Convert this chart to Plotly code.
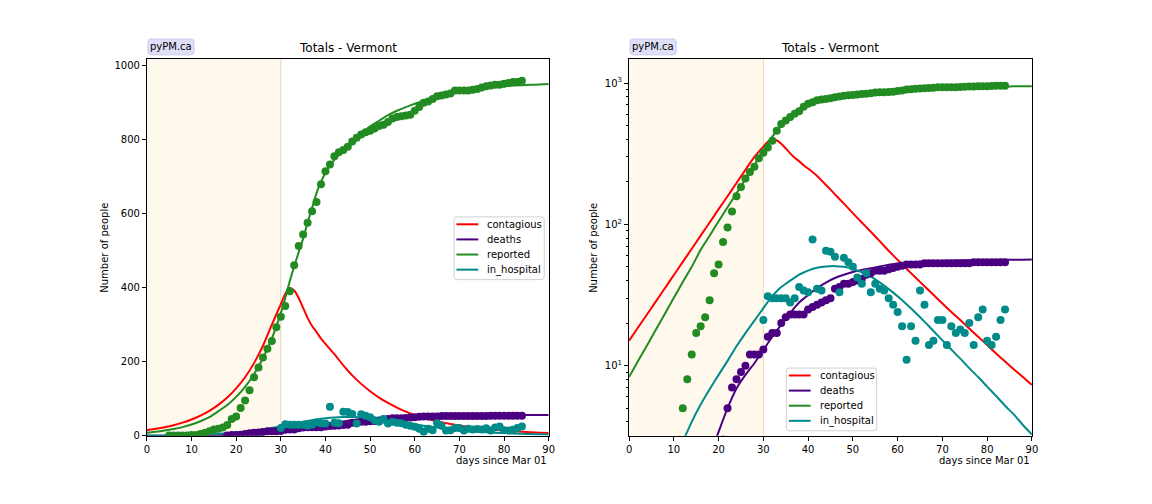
import plotly.graph_objects as go
import math

# ---------------- data ----------------
rep_days = list(range(5, 85))
reported = [1, 1, 1, 1, 1, 2, 2, 5, 8, 12, 17, 19, 22, 29, 45, 52, 75, 95, 123, 158,
            184, 211, 235, 256, 293, 321, 350, 390, 460, 512, 543, 575, 606, 631, 679, 714, 732, 754, 765, 771,
            780, 794, 804, 813, 819, 823, 829, 836, 839, 847, 856, 860, 862, 864, 866, 877, 887, 899, 902, 909,
            916, 918, 921, 924, 932, 932, 932, 932, 934, 936, 940, 943, 945, 947, 947, 950, 952, 955, 955, 958]

death_days = list(range(18, 85))
deaths = [1, 2, 2, 3, 5, 7, 8, 9, 10, 12, 12, 12, 13, 16, 17, 17, 20, 22, 23, 23,
          23, 23, 25, 26, 27, 28, 29, 30, 35, 36, 38, 38, 39, 40, 41, 44, 45, 47, 47, 47,
          48, 49, 50, 51, 52, 52, 52, 52, 53, 53, 53, 53, 53, 53, 53, 53, 53, 53, 53, 54,
          54, 54, 54, 54, 54, 54, 54]

hosp_days = list(range(30, 85))
in_hospital = [21, 31, 30, 30, 30, 30, 28, 30, 36, 34, 33, 78, 35, 34, 65, 64, 59, 33, 58, 54,
               50, 42, 38, 45, 33, 38, 35, 34, 30, 27, 24, 19, 11, 19, 15, 34, 27, 14, 15, 21,
               21, 14, 19, 17, 18, 17, 20, 14, 22, 25, 15, 14, 16, 21, 25]

model_days = [0, 2, 4, 6, 8, 10, 12, 14, 16, 18, 20, 22, 24, 26, 28,
              30, 31, 32, 33, 34, 35, 36, 37, 38, 39, 40,
              42, 44, 46, 48, 50, 52, 54, 56, 58, 60, 62, 64, 66, 68, 70, 72, 74, 76, 78, 80,
              82, 84, 86, 88, 90]
contagious_model = [15.0, 18.6, 23.0, 28.5, 35.3, 43.8, 54.2, 67.1, 83.2, 103, 128, 158, 196, 243, 300,
                    355, 383, 399, 392, 372, 345, 318, 296, 280, 262, 248,
                    220, 190, 163, 140, 120, 103, 88.5, 76, 65, 56, 48.5, 42, 36.5, 31.7, 27.5, 24, 21,
                    18.3, 16, 14, 12.2, 10.7, 9.4, 8.3, 7.3]
reported_model = [8.3, 10.8, 13.9, 18, 23.3, 30.2, 39, 50, 66, 83, 105, 132, 166, 209, 263,
                  331, 372, 417, 458, 495, 532, 575, 615, 655, 685, 710,
                  745, 772, 795, 815, 835, 850, 865, 877, 887, 896, 904, 911, 917, 923, 928, 932, 936,
                  939, 941, 943, 945, 946, 947, 948, 949]
deaths_model = [0.1, 0.15, 0.2, 0.3, 0.4, 0.55, 0.8, 1.1, 1.6, 2.3, 3.4, 5.0, 6.9, 8.6, 10.4,
                12.9, 14.4, 16, 17.7, 19.5, 21.5, 23.5, 25.8, 28, 29.8, 31.5,
                35.5, 38.7, 41.7, 44, 46, 47.6, 48.8, 50.3, 51.7, 52.9, 53.6, 54.1, 54.5, 54.8, 55.1,
                55.3, 55.5, 55.65, 55.8, 55.9, 56, 56.1, 56.2, 56.25, 56.3]
hospital_model = [0.55, 0.7, 0.9, 1.1, 1.5, 2.1, 2.9, 4.0, 5.3, 6.8, 8.6, 10.8, 13.7, 17, 20.8,
                  25.5, 28.2, 31, 33.6, 36, 38, 40, 42, 44, 45.6, 47,
                  49.2, 50.3, 50.6, 50, 48.3, 45.8, 42.6, 38.8, 34.8, 31, 27.2, 23.7, 20.5, 17.6, 15.1,
                  13, 11.2, 9.6, 8.3, 7.1, 6.1, 5.2, 4.5, 3.8, 3.25]

series_names = ["contagious", "deaths", "reported", "in_hospital"]
x_ticks = [0, 10, 20, 30, 40, 50, 60, 70, 80, 90]
lin_ticks = [0, 200, 400, 600, 800, 1000]
log_ticks = [10, 100, 1000]
log_ticktext = ["10<sup>1</sup>", "10<sup>2</sup>", "10<sup>3</sup>"]

# ---------------- style ----------------
RED = "#ff0000"
PURPLE = "#4b0082"
GREEN = "#228b22"
TEAL = "#008b8b"
FONT = "DejaVu Sans"
W, H = 1152, 504


def px(x):
    return x / W


def py(y):
    return 1 - y / H


def rounded_path(x0, y0, x1, y1, r):
    # pixel coords (y down) -> paper path
    X0, X1 = px(x0), px(x1)
    Y0, Y1 = py(y1), py(y0)  # Y0 bottom, Y1 top
    rx, ry = r / W, r / H
    return (f"M {X0+rx},{Y0} L {X1-rx},{Y0} Q {X1},{Y0} {X1},{Y0+ry} "
            f"L {X1},{Y1-ry} Q {X1},{Y1} {X1-rx},{Y1} L {X0+rx},{Y1} "
            f"Q {X0},{Y1} {X0},{Y1-ry} L {X0},{Y0+ry} Q {X0},{Y0} {X0+rx},{Y0} Z")


fig = go.Figure()

model_series = [contagious_model, deaths_model, reported_model, hospital_model]
colors = [RED, PURPLE, GREEN, TEAL]
dots = [(rep_days, reported, GREEN), (death_days, deaths, PURPLE), (hosp_days, in_hospital, TEAL)]

for xa, ya in [("x", "y"), ("x2", "y2")]:
    for name, vals, col in zip(series_names, model_series, colors):
        fig.add_trace(go.Scatter(x=model_days, y=vals, mode="lines", name=name,
                                 line=dict(color=col, width=2, shape="spline", smoothing=0.5),
                                 xaxis=xa, yaxis=ya, showlegend=False))
    for dx, dv, col in dots:
        fig.add_trace(go.Scatter(x=dx, y=dv, mode="markers",
                                 marker=dict(color=col, size=8, line=dict(width=0)),
                                 xaxis=xa, yaxis=ya, showlegend=False))

axis_common = dict(showline=True, mirror=True, linecolor="black", linewidth=1,
                   ticks="outside", ticklen=4, tickcolor="black", showgrid=False, zeroline=False,
                   tickfont=dict(size=10, color="black", family=FONT))

xdom1 = [px(145), px(550)]
xdom2 = [px(631), px(1037)]
ydom = [py(441), py(60)]

fig.update_layout(
    width=W, height=H, autosize=False, margin=dict(l=0, r=0, t=0, b=0),
    paper_bgcolor="white", plot_bgcolor="white", showlegend=False,
    font=dict(family=FONT, size=10, color="black"),
    xaxis=dict(domain=xdom1, range=[0, 90], tickvals=x_ticks, anchor="y", **axis_common),
    yaxis=dict(domain=ydom, range=[0, 1016], tickvals=lin_ticks, anchor="x", **axis_common),
    xaxis2=dict(domain=xdom2, range=[0, 90], tickvals=x_ticks, anchor="y2", **axis_common),
    yaxis2=dict(domain=ydom, type="log", range=[math.log10(3.19), math.log10(1472)],
                tickvals=log_ticks, ticktext=log_ticktext, anchor="x2",
                minor=dict(ticks="outside", ticklen=2, tickcolor="black",
                           tickvals=[m * 10 ** k for k in range(0, 4) for m in range(2, 10)]),
                **axis_common),
)

shapes = []
ann = []
for xr in ["x", "x2"]:
    yr = ("y" if xr == "x" else "y2") + " domain"
    shapes.append(dict(type="rect", xref=xr, yref=yr, x0=0, x1=30, y0=0, y1=1,
                       fillcolor="rgba(255,165,0,0.07)", line=dict(width=0), layer="below"))
    shapes.append(dict(type="line", xref=xr, yref=yr, x0=30, x1=30, y0=0, y1=1,
                       line=dict(color="rgba(205,170,120,0.45)", width=1), layer="below"))

# custom matplotlib-like legends (box left, box top in pixels)
for lb, lt in [(454.5, 219.5), (789.5, 372.5)]:
    shapes.append(dict(type="path", xref="paper", yref="paper",
                       path=rounded_path(lb, lt, lb + 91, lt + 63.5, 3),
                       fillcolor="rgba(255,255,255,0.8)", line=dict(color="#d0d0d0", width=1),
                       layer="above"))
    for i, (name, col) in enumerate(zip(series_names, colors)):
        ry = lt + 7.5 + i * 15.3
        shapes.append(dict(type="line", xref="paper", yref="paper",
                           x0=px(lb + 2.5), x1=px(lb + 24.5), y0=py(ry), y1=py(ry),
                           line=dict(color=col, width=2), layer="above"))
        ann.append(dict(text=name, x=px(lb + 31.5), y=py(ry), xref="paper", yref="paper",
                        showarrow=False, font=dict(size=10, family=FONT, color="black"),
                        xanchor="left", yanchor="middle"))

for cx, lx, ylx, bx0 in [(347.5, 550, 102, 146), (834, 1037, 595, 632)]:
    ann.append(dict(text="Totals - Vermont", x=px(cx), y=py(49), xref="paper", yref="paper",
                    showarrow=False, font=dict(size=12, family=FONT, color="black"),
                    xanchor="center", yanchor="middle"))
    ann.append(dict(text="days since Mar 01", x=px(lx), y=py(466), xref="paper", yref="paper",
                    showarrow=False, font=dict(size=10, family=FONT, color="black"),
                    xanchor="right", yanchor="middle"))
    ann.append(dict(text="Number of people", x=px(ylx), y=py(250.5), xref="paper", yref="paper",
                    showarrow=False, textangle=-90, font=dict(size=10, family=FONT, color="black"),
                    xanchor="center", yanchor="middle"))
    shapes.append(dict(type="path", xref="paper", yref="paper",
                       path=rounded_path(bx0, 39.5, bx0 + 46.5, 55.5, 3),
                       fillcolor="#dfdff7", line=dict(color="#cacaf0", width=1), layer="above"))
    ann.append(dict(text="pyPM.ca", x=px(bx0 + 23.25), y=py(47.5), xref="paper", yref="paper",
                    showarrow=False, font=dict(size=10, family=FONT, color="black"),
                    xanchor="center", yanchor="middle"))

fig.update_layout(shapes=shapes, annotations=ann)

fig.write_html("out.html")
